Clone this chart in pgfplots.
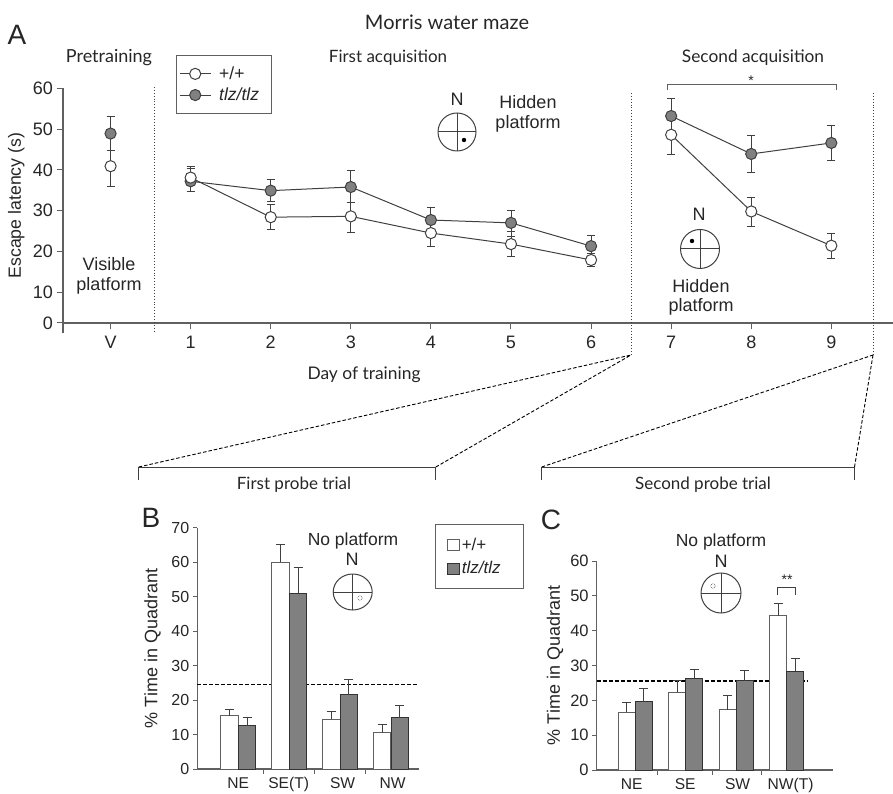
\documentclass[border=0pt]{standalone}
\usepackage{fontspec}
\setmainfont{Liberation Sans}
\newfontfamily\hd{Lato}
\usepackage{pgfplots}
\pgfplotsset{compat=1.18}
\definecolor{axc}{HTML}{606060}
\definecolor{lnc}{HTML}{404040}
\definecolor{gf}{HTML}{808080}
\definecolor{txt}{HTML}{262626}
\newcommand{\fs}[1]{\fontsize{#1}{#1}\selectfont}
\pgfplotsset{
  base/.style={scale only axis, clip=false, axis x line=bottom, axis y line=left,
    axis line style={-, draw=axc, line width=1.1pt},
    tick align=outside, tick style={draw=axc, line width=1pt},
    tick label style={font=\fs{17}, text=txt},
    /pgf/number format/assume math mode=true,
    label style={font=\fs{17}, text=txt},
  },
  errs/.style={error bars/y dir=both, error bars/y explicit,
    error bars/error bar style={draw=lnc, line width=0.9pt}, error bars/error mark options={rotate=90, mark size=4pt, draw=lnc, line width=0.9pt}},
  wt/.style={draw=lnc, line width=1pt, mark=*, mark size=5.6pt, mark options={fill=white, draw=lnc, line width=1pt}},
  tl/.style={draw=lnc, line width=1pt, mark=*, mark size=5.6pt, mark options={fill=gf, draw=lnc, line width=1pt}},
  wbar/.style={ybar, bar width=#1, bar shift=0pt, fill=white, draw=axc, line width=1pt,
    legend image code/.code={\draw[##1] (0pt,-5.5pt) rectangle (12pt,5.5pt);}},
  gbar/.style={ybar, bar width=#1, bar shift=0pt, fill=gf, draw=black!80, line width=1pt,
    legend image code/.code={\draw[##1] (0pt,-5.5pt) rectangle (12pt,5.5pt);}},
  berr/.style={forget plot, draw=none, mark=none, error bars/y dir=plus, error bars/y explicit,
    error bars/error bar style={draw=lnc, line width=1pt}, error bars/error mark options={rotate=90, mark size=4.5pt, draw=lnc, line width=1pt}},
}
\begin{document}
\begin{tikzpicture}[x=1pt,y=1pt]
\path[use as bounding box] (0,0) rectangle (893,793);
% Panel A
\begin{axis}[base, at={(63pt,470pt)}, anchor=south west, width=830pt, height=234.7pt,
  xmin=-0.594, xmax=9.77, ymin=2.45, ymax=60,
  xtick={0,1,2,3,4,5,6,7,8,9}, xticklabels={V,1,2,3,4,5,6,7,8,9},
  ytick={2.45,10,20,30,40,50,60}, yticklabels={0,10,20,30,40,50,60},
  major tick length=6.5pt,
  tick label style={font=\fs{18}},
  xticklabel style={yshift=-3pt},
  ylabel={Escape latency (s)}, ylabel style={font=\fs{17.7}, at={(axis description cs:-0.0,0.5)}, yshift=35pt},
  legend style={at={(axis description cs:0.1358,1.1406)}, anchor=north west, draw=axc, line width=1pt,
    font=\fs{17.5}, text=txt, inner xsep=3pt, inner ysep=9pt, row sep=3pt},
  legend image code/.code={\draw[mark repeat=2, mark phase=2, #1] plot coordinates {(0pt,0pt) (15.5pt,0pt) (31pt,0pt)};},
  legend cell align=left]
\addplot[wt, errs] table[x=x,y=y,y error plus=p,y error minus=m] {
x y p m
0 40.9 3.8 4.9
};
\addlegendentry{\makebox[53pt][l]{\hspace{6pt}+/+}}
\addplot[tl, errs] table[x=x,y=y,y error plus=p,y error minus=m] {
x y p m
0 48.9 4.3 4.2
};
\addlegendentry{\makebox[53pt][l]{\hspace{6pt}\textit{tlz/tlz}}}
\addplot[tl, errs, forget plot] table[x=x,y=y,y error plus=p,y error minus=m] {
x y p m
1 37.2 3.2 2.6
2 34.9 2.7 2.7
3 35.8 4.1 3.9
4 27.7 3.1 3.2
5 27.0 3.1 3.3
6 21.3 2.6 2.6
};
\addplot[wt, errs, forget plot] table[x=x,y=y,y error plus=p,y error minus=m] {
x y p m
1 38.1 2.8 3.5
2 28.4 3.1 2.9
3 28.6 3.3 3.9
4 24.5 3.3 3.2
5 21.8 3.0 3.1
6 17.9 1.6 1.7
};
\addplot[tl, errs, forget plot] table[x=x,y=y,y error plus=p,y error minus=m] {
x y p m
7 53.2 4.2 4.3
8 43.9 4.6 4.5
9 46.6 4.4 4.4
};
\addplot[wt, errs, forget plot] table[x=x,y=y,y error plus=p,y error minus=m] {
x y p m
7 48.6 4.4 4.7
8 29.8 3.5 3.7
9 21.4 3.0 3.0
};
\end{axis}
% y axis stub below x axis
\draw[axc, line width=1.1pt] (63,470) -- (63,460.3);
% dotted separators
\draw[lnc, line width=0.9pt, dotted] (154,706) -- (154,461);
\draw[lnc, line width=0.9pt, dotted] (631,700) -- (631,438);
\draw[lnc, line width=0.9pt, dotted] (873,700) -- (873,438);
% Panel B
\begin{axis}[base, at={(197.3pt,24pt)}, anchor=south west, width=221.7pt, height=241.3pt,
  xmin=-0.805, xmax=3.55, ymin=0, ymax=70,
  xtick={0,0.99,2.05,3.03}, xticklabels={NE,SE(T),SW,NW},
  major tick length=4.5pt, major x tick style={draw=none}, minor tick length=4.5pt,
  minor xtick={0.5,1.5,2.5},
  ytick={0,10,...,70},
  yticklabel style={font=\fs{16}},
  xticklabel style={font=\fs{15.6}, text height=11.5pt, text depth=3.5pt},
  ylabel={\% Time in Quadrant}, ylabel style={font=\fs{18}, at={(axis description cs:0,0.5)}, yshift=33pt},
  legend style={at={(axis description cs:1.0735,1.0141)}, anchor=north west, draw=axc, line width=1pt,
    font=\fs{17}, text=txt, inner xsep=11pt, inner ysep=11pt, row sep=6pt},
  legend cell align=left]
\addplot[forget plot, dash pattern=on 4pt off 2pt, black, line width=1.1pt] coordinates {(-0.805,24.6) (3.55,24.6)};
\addplot[wbar=17.7pt] table[x=x,y=y] {
x y
-0.174 15.4
0.826 60.0
1.826 14.5
2.826 10.5
};
\addlegendentry{\makebox[49pt][l]{+/+}}
\addplot[gbar=17.7pt] table[x=x,y=y] {
x y
0.174 12.7
1.174 51.0
2.174 21.5
3.174 14.8
};
\addlegendentry{\makebox[49pt][l]{\textit{tlz/tlz}}}
\addplot[berr] table[x=x,y=y,y error plus=p] {
x y p
-0.174 15.4 1.9
0.826 60.0 5.0
1.826 14.5 2.2
2.826 10.5 2.5
};
\addplot[berr] table[x=x,y=y,y error plus=p] {
x y p
0.174 12.7 2.1
1.174 51.0 7.4
2.174 21.5 4.6
3.174 14.8 3.5
};
\end{axis}
% Panel C
\begin{axis}[base, at={(596.7pt,23pt)}, anchor=south west, width=236pt, height=209pt,
  xmin=-0.765, xmax=3.915, ymin=0, ymax=60,
  xtick={-0.07,0.99,2.03,3.08}, xticklabels={NE,SE,SW,NW(T)},
  major tick length=4.5pt, major x tick style={draw=none}, minor tick length=4.5pt,
  minor xtick={0.45,1.53,2.5},
  ytick={0,10,...,60},
  yticklabel style={font=\fs{16.5}},
  xticklabel style={font=\fs{15.6}, text height=11.5pt, text depth=3.5pt},
  ylabel={\% Time in Quadrant}, ylabel style={font=\fs{18}, at={(axis description cs:0,0.5)}, yshift=30pt}]
\addplot[forget plot, dash pattern=on 4pt off 2pt, black, line width=1.4pt] coordinates {(-0.765,25.5) (3.43,25.5)};
\addplot[wbar=17pt] table[x=x,y=y] {
x y
-0.1685 16.6
0.8315 22.3
1.8315 17.3
2.8315 44.3
};
\addplot[gbar=17pt] table[x=x,y=y] {
x y
0.1685 19.6
1.1685 26.3
2.1685 25.6
3.1685 28.4
};
\addplot[berr] table[x=x,y=y,y error plus=p] {
x y p
-0.1685 16.6 2.8
0.8315 22.3 3.5
1.8315 17.3 4.2
2.8315 44.3 3.5
};
\addplot[berr] table[x=x,y=y,y error plus=p] {
x y p
0.1685 19.6 3.7
1.1685 26.3 2.5
2.1685 25.6 2.9
3.1685 28.4 3.7
};
\end{axis}
% texts
\begin{scope}[text=txt]
\node[font=\fs{28}] at (17,758) {A};
\node[font=\fs{28}] at (151,275) {B};
\node[font=\fs{28}] at (551,273) {C};
\node[font=\hd\fs{20}] at (447,771) {Morris water maze};
\node[font=\hd\fs{18}] at (109,735) {Pretraining};
\node[font=\hd\fs{17}] at (388,735) {First acquisition};
\node[font=\hd\fs{17.3}] at (753,735) {Second acquisition};
\node[font=\fs{18}] at (109,529) {Visible};
\node[font=\fs{18}] at (109,507) {platform};
\node[font=\fs{18}] at (457,694) {N};
\node[font=\fs{18}] at (528,691) {Hidden};
\node[font=\fs{18}] at (528,669) {platform};
\node[font=\fs{18}] at (699,579) {N};
\node[font=\fs{18}] at (701,507) {Hidden};
\node[font=\fs{18}] at (701,486) {platform};
\node[font=\fs{14}] at (751,712) {*};
\node[font=\hd\fs{17.4}] at (364,418) {Day of training};
\node[font=\hd\fs{17}] at (294,308) {First probe trial};
\node[font=\hd\fs{17}] at (703,308) {Second probe trial};
\node[font=\fs{17.5}] at (353,252) {No platform};
\node[font=\fs{18}] at (352,234) {N};
\node[font=\fs{17.5}] at (721,251) {No platform};
\node[font=\fs{18}] at (721,232) {N};
\node[font=\fs{14}] at (787,213) {**};
\end{scope}
% compasses
\draw[lnc,line width=1pt] (457,661) circle (19);
\draw[lnc,line width=1pt] (438,661)--(476,661) (457,642)--(457,680);
\fill[black] (464,653) circle (2.2);
\draw[lnc,line width=1pt] (700,544) circle (19.5);
\draw[lnc,line width=1pt] (680.5,544)--(719.5,544) (700,524.5)--(700,563.5);
\fill[black] (692,552) circle (2.2);
\draw[lnc,line width=1pt] (352.7,201) ellipse (19.5 and 18);
\draw[lnc,line width=1pt] (333.2,201)--(372.2,201) (352.7,183)--(352.7,219);
\draw[lnc,line width=0.6pt,densely dotted] (360,195) circle (2.2);
\draw[lnc,line width=1pt] (721,200) circle (20);
\draw[lnc,line width=1pt] (701,200)--(741,200) (721,180)--(721,220);
\draw[lnc,line width=0.6pt,densely dotted] (713,207) circle (2.2);
% brackets
\draw[axc,line width=1pt] (667,703)--(667,708.3)--(836,708.3)--(836,703);
\draw[lnc,line width=1pt] (777,198)--(777,206)--(795,206)--(795,198);
\draw[lnc,line width=1pt] (138.7,313)--(138.7,326)--(435.8,326)--(435.8,313);
\draw[lnc,line width=1pt] (541.7,313)--(541.7,326)--(854.5,326)--(854.5,313);
\draw[black,line width=0.9pt,dash pattern=on 3.5pt off 2pt] (138.7,326)--(631,438) (435.8,326)--(631,438);
\draw[black,line width=0.9pt,dash pattern=on 3.5pt off 2pt] (541.7,326)--(873,438) (854.5,326)--(873,438);
\end{tikzpicture}
\end{document}
